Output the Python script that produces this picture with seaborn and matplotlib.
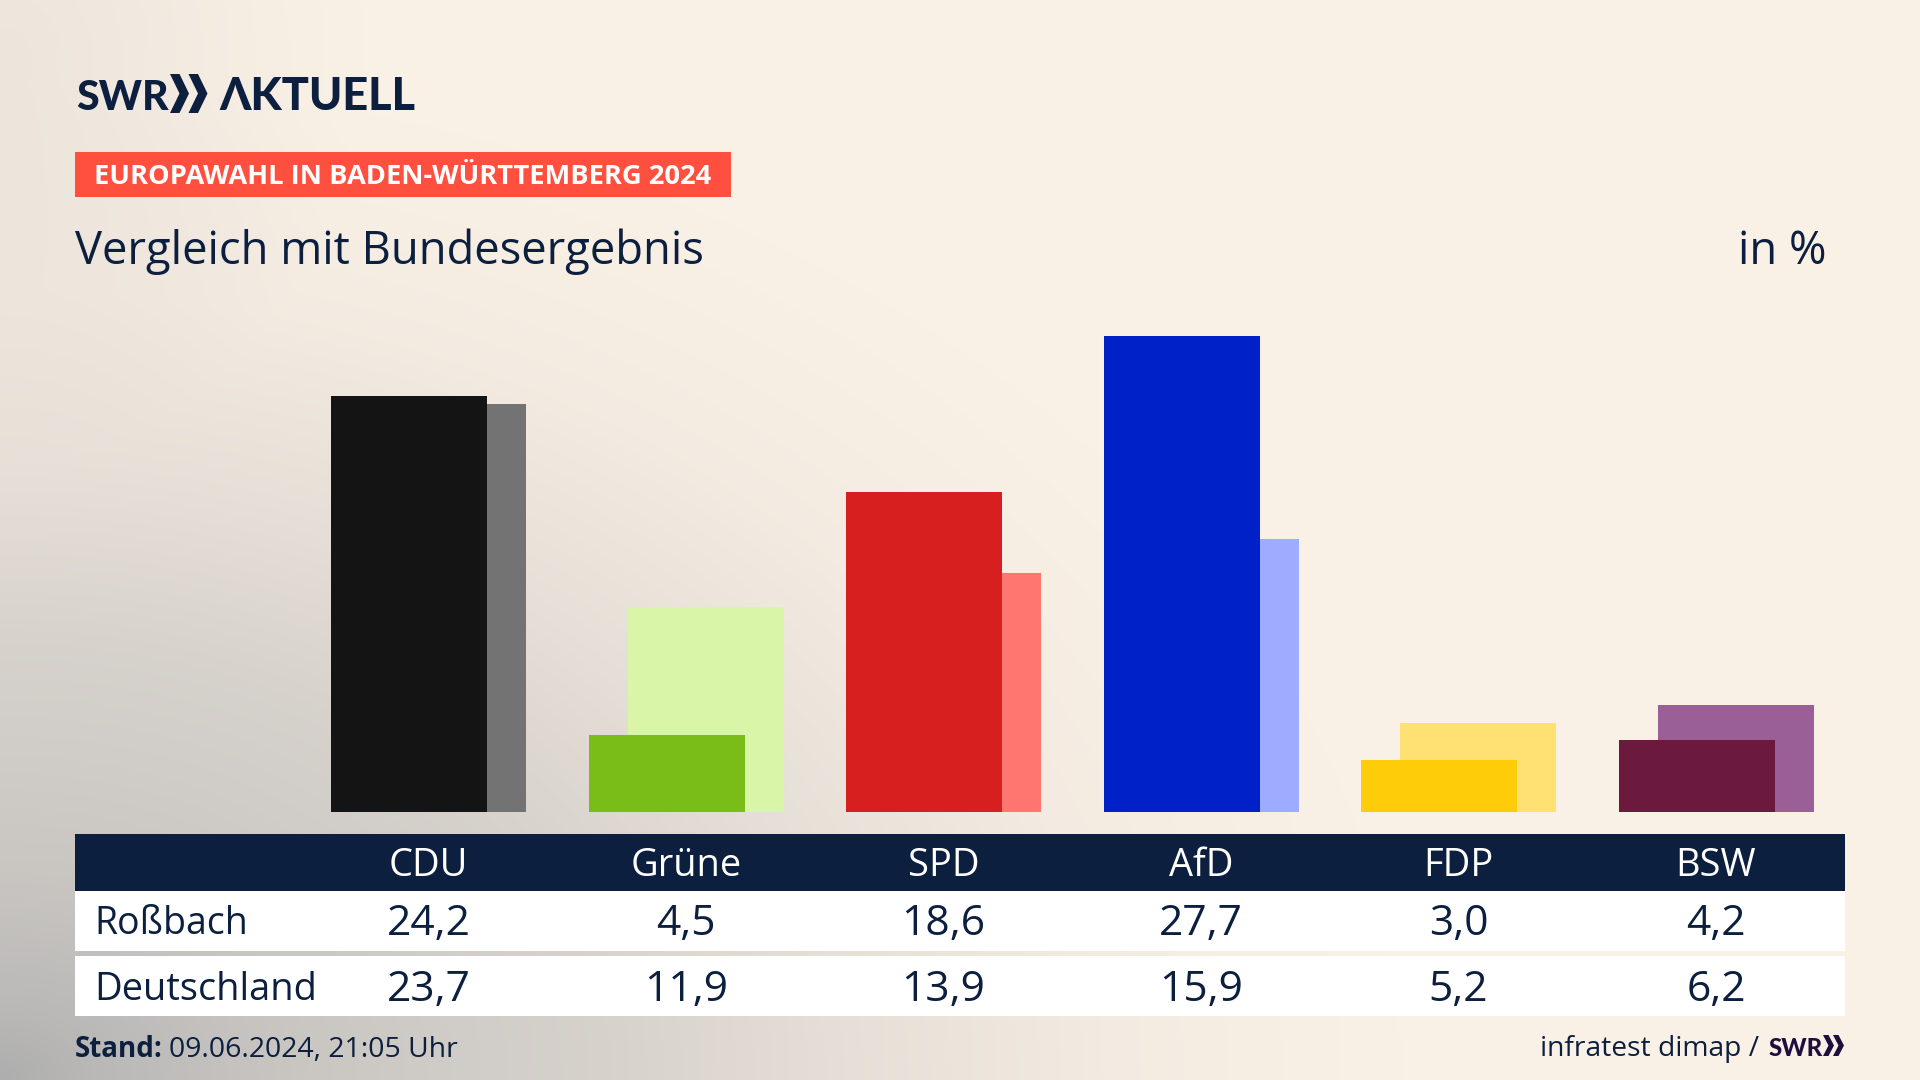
import numpy as np
import pandas as pd
import seaborn as sns
import matplotlib
matplotlib.use("Agg")
import matplotlib.pyplot as plt
from matplotlib.patches import Rectangle, Polygon

categories = ["CDU", "Grüne", "SPD", "AfD", "FDP", "BSW"]
rossbach = [24.2, 4.5, 18.6, 27.7, 3.0, 4.2]
deutschland = [23.7, 11.9, 13.9, 15.9, 5.2, 6.2]
row_names = ["Roßbach", "Deutschland"]
front_colors = ["#141414", "#7abd19", "#d81f1f", "#0020c8", "#ffcc0a", "#6b1a3d"]
back_colors = ["#737373", "#d8f5a8", "#ff7570", "#9eacff", "#ffe173", "#9a5f96"]

NAVY = "#0c1f3f"
FONT = "Open Sans"
LOGO = ["Lato", "Roboto", "DejaVu Sans"]
W, H = 1920, 1080

sns.set_theme(style="white")
plt.rcParams["font.family"] = [FONT, "DejaVu Sans"]

fig = plt.figure(figsize=(19.2, 10.8), dpi=100)

# pixel-space layer: background, header, table
px = fig.add_axes([0, 0, 1, 1], zorder=0)
px.set_xlim(0, W)
px.set_ylim(H, 0)
px.axis("off")

yy, xx = np.mgrid[0:H:270j, 0:W:480j]
d = np.sqrt((xx / 1400.0) ** 2 + ((H - yy) / 1000.0) ** 2)
t = np.interp(d, [0, 0.07, 0.21, 0.43, 0.61, 0.79, 1.0], [1.0, 0.84, 0.64, 0.47, 0.26, 0.09, 0.0])
glow = np.clip(1 - np.sqrt((xx / 360.0) ** 2 + ((yy - 60) / 400.0) ** 2), 0, 1) * 0.18
t = np.clip(t + glow, 0, 1)
cream = np.array([0xfa, 0xf1, 0xe6]) / 255
grey = np.array([0xae, 0xae, 0xae]) / 255
bg = cream[None, None, :] * (1 - t[..., None]) + grey[None, None, :] * t[..., None]
px.imshow(bg, extent=(0, W, H, 0), aspect="auto", zorder=0, interpolation="bilinear")


def T(x, y, s, size, color=NAVY, weight="normal", ha="left", family=None):
    return px.text(x, y, s, fontsize=size * 0.72, color=color, fontweight=weight,
                   ha=ha, va="baseline", zorder=3, family=family)


def chevrons(x, y0, y1, w, gap, color):
    mid = (y0 + y1) / 2
    for k in range(2):
        o = x + k * gap
        px.add_patch(Polygon([(o, y0), (o + w * 0.5, y0), (o + w, mid), (o + w * 0.5, y1),
                              (o, y1), (o + w * 0.5, mid)], closed=True, fc=color, ec="none", zorder=3))


# logo
T(76, 110, "SWR", 41, weight=900, family=LOGO)
chevrons(170, 74, 113, 19, 18.5, NAVY)
T(219, 110, "ΛKTUELL", 45, weight=900, family=LOGO)

# badge and title
px.add_patch(Rectangle((75, 152), 656, 45, fc="#ff4f3f", ec="none", zorder=1))
T(94, 184, "EUROPAWAHL IN BADEN-WÜRTTEMBERG 2024", 27.2, color="white", weight="bold")
T(75, 264, "Vergleich mit Bundesergebnis", 45.4)
T(1826, 264, "in %", 45.4, ha="right")

# bars: two overlaid axes sharing the same scale, shifted horizontally
BASE, TOP = 812, 300
UNIT = 17.2
SLOT = 257.5
FRONT_LEFT = 280.5
SHIFT = 39


def bar_axes(left, values, colors, z):
    ax = fig.add_axes([left / W, 1 - BASE / H, 6 * SLOT / W, (BASE - TOP) / H], zorder=z)
    df = pd.DataFrame({"party": categories, "value": values})
    sns.barplot(data=df, x="party", y="value", hue="party", palette=dict(zip(categories, colors)),
                order=categories, hue_order=categories, legend=False, dodge=False,
                width=0.606, saturation=1, linewidth=0, ax=ax)
    ax.set_xlim(-0.5, 5.5)
    ax.set_ylim(0, (BASE - TOP) / UNIT)
    ax.axis("off")
    return ax


bar_axes(FRONT_LEFT + SHIFT, deutschland, back_colors, 1)
bar_axes(FRONT_LEFT, rossbach, front_colors, 2)

# table
px.add_patch(Rectangle((75, 834), 1770, 57, fc=NAVY, ec="none", zorder=1))
px.add_patch(Rectangle((75, 891), 1770, 60, fc="white", ec="none", zorder=1))
px.add_patch(Rectangle((75, 956), 1770, 60, fc="white", ec="none", zorder=1))
T(94, 934, row_names[0], 37.5)
T(94, 1000, row_names[1], 38)
for i, c in enumerate(categories):
    cx = 428.5 + i * SLOT
    T(cx, 876, c, 38, color="white", ha="center")
    T(cx, 935, f"{rossbach[i]:.1f}".replace(".", ","), 42.5, ha="center")
    T(cx, 1001, f"{deutschland[i]:.1f}".replace(".", ","), 42.5, ha="center")

# footer
T(75, 1057, "Stand:", 27.8, weight="bold")
T(169, 1057, "09.06.2024, 21:05 Uhr", 28.4)
T(1759, 1056, "infratest dimap /", 28.3, ha="right")
T(1769, 1056, "SWR", 24, color="#1f0f3f", weight=900, family=LOGO)
chevrons(1823, 1035, 1056, 11, 10, "#1f0f3f")

fig.savefig("out.png", dpi=100)
